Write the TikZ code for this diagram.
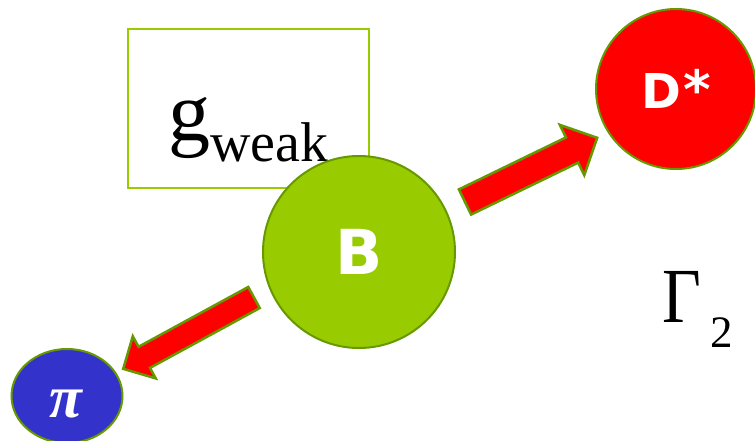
\documentclass[tikz,border=0pt]{standalone}
\usepackage{fontspec}
\setmainfont{Liberation Serif}
\newfontfamily\labelsans{DejaVu Sans}
\usetikzlibrary{shapes.geometric}
\definecolor{leaf}{HTML}{99CC00}
\definecolor{edgegreen}{HTML}{669900}
\definecolor{pired}{HTML}{FF0000}
\definecolor{piblue}{HTML}{3333CC}
\tikzset{
  particle/.style={draw=edgegreen, line width=2pt, inner sep=0pt, text=white,
    font=\labelsans\bfseries},
  blockarrow/.style={fill=pired, draw=edgegreen, line width=2.5pt, line join=miter},
  framebox/.style={draw=leaf, line width=2.2pt, inner sep=0pt}
}
\begin{document}
\begin{tikzpicture}[x=1pt,y=-1pt]
\useasboundingbox (0,0) rectangle (755,440);
\node[framebox, minimum width=241pt, minimum height=159pt] (frame) at (248.5,108.5) {};
\node[inner sep=0pt, anchor=base west] (g) at (168,140) {\fontsize{84}{84}\selectfont g\raisebox{-21pt}{\fontsize{56}{56}\selectfont weak}};
\node[particle, circle, fill=leaf, minimum size=192pt] (B) at (359,252) {\fontsize{62}{62}\selectfont\raisebox{-2pt}{B}};
\node[particle, circle, fill=pired, minimum size=160pt] (D) at (676,89) {\fontsize{48}{48}\selectfont D\kern2pt\scalebox{1.1}{*}};
\node[particle, ellipse, fill=piblue, minimum width=111pt, minimum height=94pt] (pi) at (67,396) {};
\node[inner sep=0pt, text=white] (pitext) at (66,404) {\bfseries\itshape\fontsize{60}{60}\selectfont π};
\node[inner sep=0pt, anchor=base west] (G) at (662,322) {\fontsize{78}{78}\selectfont\scalebox{0.86}[1]{Γ}\kern10pt\raisebox{-25pt}{\fontsize{45}{45}\selectfont 2}};
\begin{scope}[shift={(465,202)}, rotate=25.9]
  \coordinate (a1tail) at (0,0);
  \coordinate (a1tip) at (147,0);
  \draw[blockarrow] (0,-14) -- (119,-14) -- (119,-28) -- (a1tip) -- (119,28) -- (119,14) -- (0,14) -- cycle;
\end{scope}
\begin{scope}[shift={(254,297.5)}, rotate=208.6]
  \coordinate (a2tail) at (0,0);
  \coordinate (a2tip) at (149,0);
  \draw[blockarrow] (0,-12) -- (125,-12) -- (125,-24) -- (a2tip) -- (125,24) -- (125,12) -- (0,12) -- cycle;
\end{scope}
\end{tikzpicture}
\end{document}
